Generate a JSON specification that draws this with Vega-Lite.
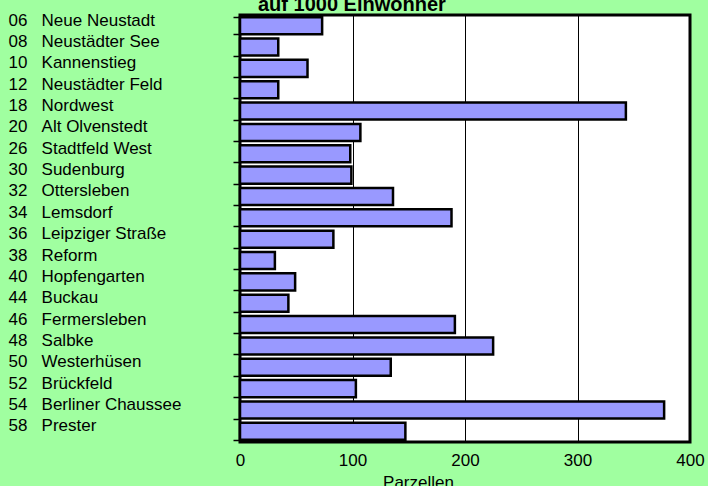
{
  "$schema": "https://vega.github.io/schema/vega-lite/v6.json",
  "autosize": "none",
  "width": 450,
  "height": 427,
  "padding": {"left": 240, "top": 15, "right": 18, "bottom": 44},
  "background": "#a0ffa0",
  "view": {"fill": "white", "stroke": "black", "strokeWidth": 3},
  "title": {
    "text": "auf 1000 Einwohner",
    "font": "Liberation Sans",
    "fontSize": 20,
    "fontWeight": "bold",
    "color": "black",
    "anchor": "start",
    "frame": "group",
    "dx": 18,
    "dy": 31,
    "baseline": "alphabetic",
    "offset": 6
  },
  "data": {
    "values": [
      {"stadtteil": "06\u00a0\u00a0\u00a0Neue Neustadt", "parzellen": 73},
      {"stadtteil": "08\u00a0\u00a0\u00a0Neustädter See", "parzellen": 34},
      {"stadtteil": "10\u00a0\u00a0\u00a0Kannenstieg", "parzellen": 60},
      {"stadtteil": "12\u00a0\u00a0\u00a0Neustädter Feld", "parzellen": 34},
      {"stadtteil": "18\u00a0\u00a0\u00a0Nordwest", "parzellen": 343},
      {"stadtteil": "20\u00a0\u00a0\u00a0Alt Olvenstedt", "parzellen": 107},
      {"stadtteil": "26\u00a0\u00a0\u00a0Stadtfeld West", "parzellen": 98},
      {"stadtteil": "30\u00a0\u00a0\u00a0Sudenburg", "parzellen": 99},
      {"stadtteil": "32\u00a0\u00a0\u00a0Ottersleben", "parzellen": 136},
      {"stadtteil": "34\u00a0\u00a0\u00a0Lemsdorf", "parzellen": 188},
      {"stadtteil": "36\u00a0\u00a0\u00a0Leipziger Straße", "parzellen": 83},
      {"stadtteil": "38\u00a0\u00a0\u00a0Reform", "parzellen": 31},
      {"stadtteil": "40\u00a0\u00a0\u00a0Hopfengarten", "parzellen": 49},
      {"stadtteil": "44\u00a0\u00a0\u00a0Buckau", "parzellen": 43},
      {"stadtteil": "46\u00a0\u00a0\u00a0Fermersleben", "parzellen": 191},
      {"stadtteil": "48\u00a0\u00a0\u00a0Salbke", "parzellen": 225},
      {"stadtteil": "50\u00a0\u00a0\u00a0Westerhüsen", "parzellen": 134},
      {"stadtteil": "52\u00a0\u00a0\u00a0Brückfeld", "parzellen": 103},
      {"stadtteil": "54\u00a0\u00a0\u00a0Berliner Chaussee", "parzellen": 377},
      {"stadtteil": "58\u00a0\u00a0\u00a0Prester", "parzellen": 147}
    ]
  },
  "mark": {"type": "bar", "fill": "#9999ff", "stroke": "black", "strokeWidth": 2.5},
  "encoding": {
    "y": {
      "field": "stadtteil",
      "type": "nominal",
      "sort": null,
      "scale": {"paddingInner": 0.2, "paddingOuter": 0.1},
      "axis": {
        "title": null,
        "domain": false,
        "tickBand": "extent",
        "tickColor": "black",
        "tickWidth": 1.5,
        "tickSize": 7,
        "labelAlign": "left",
        "labelPadding": 225,
        "labelOffset": -5.5,
        "labelFont": "Liberation Sans",
        "labelFontSize": 17,
        "labelColor": "black",
        "labelLimit": 300
      }
    },
    "x": {
      "field": "parzellen",
      "type": "quantitative",
      "scale": {"domain": [0, 400], "nice": false},
      "axis": {
        "title": "Parzellen",
        "values": [0, 100, 200, 300, 400],
        "domain": false,
        "ticks": false,
        "grid": true,
        "gridColor": "black",
        "gridWidth": 1,
        "gridOpacity": 1,
        "labelPadding": 10,
        "labelFont": "Liberation Sans",
        "labelFontSize": 17,
        "labelColor": "black",
        "labelFlush": false,
        "titleFont": "Liberation Sans",
        "titleFontSize": 17,
        "titleFontWeight": "normal",
        "titleColor": "black",
        "titleX": 178,
        "titleY": 45,
        "titleAlign": "center",
        "titleBaseline": "alphabetic"
      }
    }
  }
}
